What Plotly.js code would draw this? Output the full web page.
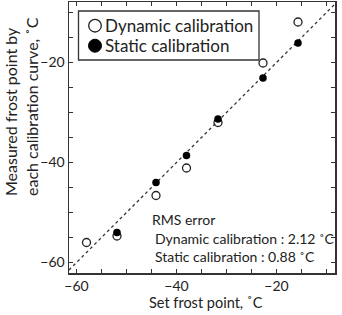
<!DOCTYPE html>
<html><head><meta charset="utf-8">
<script src="https://cdn.plot.ly/plotly-3.0.1.min.js"></script>
<style>html,body{margin:0;padding:0;background:#fff}#chart{width:342px;height:315px}</style>
</head><body><div id="chart"></div>
<script>
const dynX = [-58, -51.9, -44.1, -38, -31.7, -22.7, -15.7];
const dynY = [-56, -54.7, -46.6, -41.1, -32, -20.1, -11.9];
const staX = [-51.9, -44.1, -38, -31.7, -22.7, -15.7];
const staY = [-54.0, -44.0, -38.6, -31.3, -23.1, -16.1];
const lineX = [-70, 0];
const lineY = [-70, 0];
const seriesNames = ['Dynamic calibration', 'Static calibration'];
const rmsTitle = 'RMS error';
const rmsLines = ['Dynamic calibration : 2.12 ˚C', 'Static calibration : 0.88 ˚C'];
const xTitle = 'Set frost point, ˚C';
const yTitle = 'Measured frost point by<br>each calibration curve, ˚C';

const F = 'Lato, "Open Sans", sans-serif';
const C = '#222';
const traces = [
  {x: lineX, y: lineY, mode: 'lines', line: {color: '#333', width: 1.3, dash: 'dot'}, showlegend: false, hoverinfo: 'skip'},
  {x: dynX, y: dynY, mode: 'markers', name: seriesNames[0], showlegend: false,
   marker: {symbol: 'circle-open', size: 8, color: C, line: {width: 1.3, color: C}}},
  {x: staX, y: staY, mode: 'markers', name: seriesNames[1], showlegend: false,
   marker: {symbol: 'circle', size: 7.5, color: '#000'}}
];
const axisCommon = {
  showgrid: false, zeroline: false, showline: true, linecolor: '#333', linewidth: 1.5,
  mirror: 'allticks', ticks: 'inside', ticklen: 4, tickwidth: 1, tickcolor: '#333',
  dtick: 20, tick0: -60, tickfont: {family: F, size: 14, color: C},
  minor: {dtick: 5, ticks: 'inside', ticklen: 4, tickwidth: 1, tickcolor: '#333', showgrid: false}
};
const W = 342, H = 315, ML = 69, MR = 7, MT = 2, MB = 42;
const pw = W - ML - MR, ph = H - MT - MB;
const px = v => (v - ML) / pw;
const py = v => (H - MB - v) / ph;
const layout = {
  width: W, height: H,
  margin: {l: ML, r: MR, t: MT, b: MB},
  paper_bgcolor: '#fff', plot_bgcolor: '#fff',
  font: {family: F, color: C},
  xaxis: Object.assign({}, axisCommon, {range: [-61.5, -8.3]}),
  yaxis: Object.assign({}, axisCommon, {range: [-62.1, -7.9]}),
  showlegend: false,
  shapes: [
    {type: 'rect', xref: 'paper', yref: 'paper', x0: px(78.5), x1: px(259), y0: py(60), y1: py(11),
     line: {color: '#333', width: 1.3}, fillcolor: '#fff', layer: 'above'},
    {type: 'circle', xref: 'paper', yref: 'paper', xsizemode: 'pixel', ysizemode: 'pixel',
     xanchor: px(95), yanchor: py(25.7), x0: -6.3, x1: 6.3, y0: -6.3, y1: 6.3,
     line: {color: C, width: 1.3}, fillcolor: '#fff', layer: 'above'},
    {type: 'circle', xref: 'paper', yref: 'paper', xsizemode: 'pixel', ysizemode: 'pixel',
     xanchor: px(95), yanchor: py(45.7), x0: -6.5, x1: 6.5, y0: -6.5, y1: 6.5,
     line: {color: '#000', width: 1}, fillcolor: '#000', layer: 'above'}
  ],
  annotations: [
    {xref: 'paper', yref: 'paper', x: px(103), y: py(25.7), xanchor: 'left', yanchor: 'middle', showarrow: false,
     text: seriesNames[0], font: {family: F, size: 17, color: C}},
    {xref: 'paper', yref: 'paper', x: px(103), y: py(45.7), xanchor: 'left', yanchor: 'middle', showarrow: false,
     text: seriesNames[1], font: {family: F, size: 17, color: C}},
    {xref: 'paper', yref: 'paper', x: px(21), y: py(107), textangle: -90, showarrow: false, align: 'left',
     text: yTitle, font: {family: F, size: 16, color: C}, xanchor: 'center', yanchor: 'middle'},
    {xref: 'paper', yref: 'paper', x: px(205.5), y: py(302), showarrow: false,
     text: xTitle, font: {family: F, size: 14.5, color: C}, xanchor: 'center', yanchor: 'middle'},
    {xref: 'paper', yref: 'paper', x: px(150), y: py(219), xanchor: 'left', yanchor: 'middle', showarrow: false,
     text: rmsTitle, font: {family: F, size: 14, color: C}},
    {xref: 'paper', yref: 'paper', x: px(153), y: py(238), xanchor: 'left', yanchor: 'middle', showarrow: false,
     text: rmsLines[0], font: {family: F, size: 14, color: C}},
    {xref: 'paper', yref: 'paper', x: px(153), y: py(256.5), xanchor: 'left', yanchor: 'middle', showarrow: false,
     text: rmsLines[1], font: {family: F, size: 14, color: C}}
  ]
};
Plotly.newPlot('chart', traces, layout, {displayModeBar: false, staticPlot: true});
</script></body></html>
